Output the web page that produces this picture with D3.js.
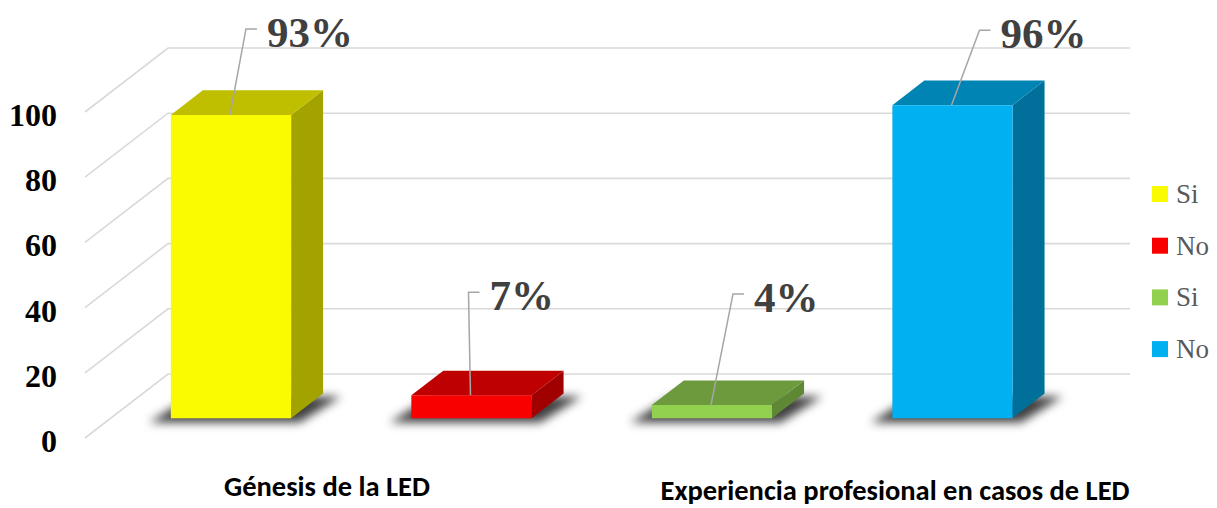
<!DOCTYPE html>
<html>
<head>
<meta charset="utf-8">
<script src="https://cdn.jsdelivr.net/npm/d3@7"></script>
<style>
  body { margin: 0; background: #fff; }
  svg { display: block; }
</style>
</head>
<body>
<div id="chart"></div>
<script>
var width = 1217, height = 508;

// data
var seriesNames = ["Si", "No", "Si", "No"];
var values = [93, 7, 4, 96];
var valueLabels = ["93%", "7%", "4%", "96%"];
var categories = ["Génesis de la LED", "Experiencia profesional en casos de LED"];
var yTicks = [0, 20, 40, 60, 80, 100];

var fronts = ["#FAFA00", "#F80000", "#92D050", "#00B0F0"];
var tops   = ["#BFBF00", "#BF0000", "#6E9A3E", "#0084B4"];
var sides  = ["#A3A300", "#A00000", "#5E8834", "#00709A"];

// leader line elbow offsets from bar top (layout only)
var labelOffsets = [[16, -86], [-2, -103], [22, -111], [28, -75]];
var catAnchors = [327, 895];
var catBaselines = [496, 500];

var serif = "'Times New Roman', 'Liberation Serif', serif";

// 3d-ish projection: front plane + depth
var DX = 83, DY = 64;
var z0 = 0.31, z1 = 0.695;

var x = d3.scaleBand()
    .domain(d3.range(values.length))
    .range([85, 85 + 962])
    .paddingInner(0.5)
    .paddingOuter(0.25);

var y = d3.scaleLinear()
    .domain([0, 100])
    .range([438, 112]);

function proj(px, v, z) {
  return [px + z * DX, y(v) - z * DY];
}

var svg = d3.select("#chart")
    .append("svg")
    .attr("width", width)
    .attr("height", height);

var defs = svg.append("defs");
defs.append("filter")
    .attr("id", "blur")
    .attr("x", "-30%").attr("y", "-100%")
    .attr("width", "160%").attr("height", "300%")
  .append("feGaussianBlur")
    .attr("stdDeviation", 5);

// gridlines: left wall diagonals + back wall horizontals
var grid = svg.append("g")
    .attr("stroke", "#D9D9D9")
    .attr("stroke-width", 1.6)
    .attr("fill", "none");

yTicks.forEach(function(t) {
  var a = proj(85, t, 0), b = proj(85, t, 1), c = proj(85 + 962, t, 1);
  grid.append("path")
      .attr("d", "M" + a + "L" + b + "L" + c);
});

// y axis labels
svg.append("g")
    .selectAll("text")
    .data(yTicks)
    .join("text")
    .attr("x", 57)
    .attr("y", function(d) { return y(d) + 3; })
    .attr("text-anchor", "end")
    .attr("dominant-baseline", "central")
    .style("font-family", serif)
    .style("font-weight", "bold")
    .style("font-size", "32px")
    .attr("fill", "#000")
    .text(function(d) { return d; });

// shadows on the floor
svg.append("g")
    .attr("filter", "url(#blur)")
    .selectAll("path")
    .data(values)
    .join("path")
    .attr("d", function(d, i) {
      var l = x(i) - 16, r = x(i) + x.bandwidth() + 14;
      var p = [proj(l, 0, z0 - 0.02), proj(r, 0, z0 - 0.02), proj(r + 8, 0, z1), proj(l + 8, 0, z1)];
      return "M" + p.join("L") + "Z";
    })
    .attr("transform", "translate(-4,3)")
    .attr("fill", "#000")
    .attr("opacity", 0.75);

// bars
var bars = svg.append("g")
    .selectAll("g")
    .data(values)
    .join("g");

bars.append("path")
    .attr("d", function(d, i) {
      var r = x(i) + x.bandwidth();
      var p = [proj(r, 0, z0), proj(r, 0, z1), proj(r, d, z1), proj(r, d, z0)];
      return "M" + p.join("L") + "Z";
    })
    .attr("fill", function(d, i) { return sides[i]; });

bars.append("path")
    .attr("d", function(d, i) {
      var l = x(i), r = x(i) + x.bandwidth();
      var p = [proj(l, d, z0), proj(r, d, z0), proj(r, d, z1), proj(l, d, z1)];
      return "M" + p.join("L") + "Z";
    })
    .attr("fill", function(d, i) { return tops[i]; });

bars.append("path")
    .attr("d", function(d, i) {
      var l = x(i), r = x(i) + x.bandwidth();
      var p = [proj(l, 0, z0), proj(r, 0, z0), proj(r, d, z0), proj(l, d, z0)];
      return "M" + p.join("L") + "Z";
    })
    .attr("fill", function(d, i) { return fronts[i]; });

// data labels with leader lines
var labels = svg.append("g")
    .selectAll("g")
    .data(values)
    .join("g");

function elbow(d, i) {
  var s = proj(x(i) + x.bandwidth() / 2 - 1, d, z0);
  return [s, [s[0] + labelOffsets[i][0], s[1] + labelOffsets[i][1]]];
}

labels.append("path")
    .attr("d", function(d, i) {
      var e = elbow(d, i);
      return "M" + e[0] + "L" + e[1] + "L" + [e[1][0] + 11, e[1][1]];
    })
    .attr("fill", "none")
    .attr("stroke", "#A6A6A6")
    .attr("stroke-width", 1.5);

labels.append("text")
    .attr("x", function(d, i) { return elbow(d, i)[1][0] + 21; })
    .attr("y", function(d, i) { return elbow(d, i)[1][1] + 18; })
    .style("font-family", serif)
    .style("font-weight", "bold")
    .style("font-size", "43px")
    .attr("fill", "#404040")
    .text(function(d, i) { return valueLabels[i]; });

// category labels
svg.append("g")
    .selectAll("text")
    .data(categories)
    .join("text")
    .attr("x", function(d, i) { return catAnchors[i]; })
    .attr("y", function(d, i) { return catBaselines[i]; })
    .attr("text-anchor", "middle")
    .style("font-family", "Carlito, Calibri, 'Open Sans', sans-serif")
    .style("font-weight", "bold")
    .style("font-size", "28.5px")
    .attr("fill", "#000")
    .text(function(d) { return d; });

// legend
var legend = svg.append("g")
    .selectAll("g")
    .data(seriesNames)
    .join("g")
    .attr("transform", function(d, i) { return "translate(1152," + (194 + i * 51.7) + ")"; });

legend.append("rect")
    .attr("x", 0).attr("y", -8)
    .attr("width", 16).attr("height", 16)
    .attr("fill", function(d, i) { return fronts[i]; });

legend.append("text")
    .attr("x", 24)
    .attr("y", 9)
    .style("font-family", serif)
    .style("font-size", "27px")
    .attr("fill", "#595959")
    .text(function(d) { return d; });
</script>
</body>
</html>
